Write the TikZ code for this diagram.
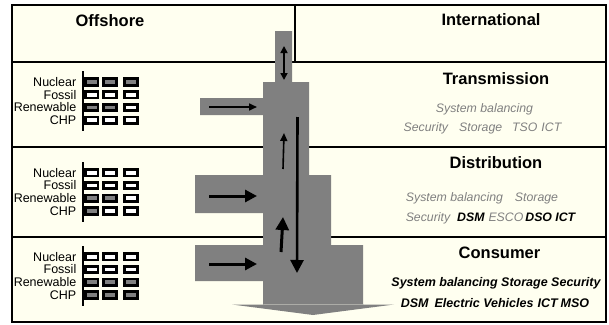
\documentclass[tikz,border=0pt]{standalone}
\usepackage{fontspec}
\setmainfont{Liberation Sans}
\usepackage{xcolor}
\usepackage{tikz}
\usetikzlibrary{arrows.meta}
\usetikzlibrary{positioning}

\definecolor{paper}{RGB}{255,255,240}
\definecolor{flowgray}{RGB}{128,128,128}
\definecolor{softtext}{RGB}{128,128,128}
\colorlet{lit}{flowgray}
\colorlet{unlit}{white}

\newcommand{\bolditem}[1]{{\bfseries\color{black}#1}}

% name, y of first row, fills per row
\newcommand{\gentable}[3]{%
  \foreach \lab [count=\r] in {Nuclear,Fossil,Renewable,CHP}
    \node[gen] (#1-\r) at (76.5,{#2+(\r-1)*12.8}) {\lab};
  \foreach \fa/\fb/\fc [count=\r] in {#3} {
    \node[cell,fill=\fa] (#1-\r-a) at (91.8,{#2+(\r-1)*12.8}) {};
    \node[cell,fill=\fb] (#1-\r-b) at (109.9,{#2+(\r-1)*12.8}) {};
    \node[cell,fill=\fc] (#1-\r-c) at (131,{#2+(\r-1)*12.8}) {};
  }
  \draw[rule,line width=2.4pt] (82.7,{#2-10.5}) -- (82.7,{#2+48.9});
}

\begin{document}
\begin{tikzpicture}[x=1pt,y=-1pt,
  head/.style={font=\bfseries\fontsize{16.5}{18}\selectfont},
  gen/.style={anchor=east,inner sep=0pt,font=\fontsize{12.5}{13}\selectfont},
  cell/.style={draw,line width=2.8pt,minimum width=12.4pt,minimum height=6.6pt,inner sep=0pt},
  item/.style={inner sep=0pt,text=softtext,font=\itshape\fontsize{12.3}{14}\selectfont},
  hot/.style={inner sep=0pt,text=black,font=\bfseries\itshape\fontsize{12.5}{14}\selectfont},
  rule/.style={line width=2pt},
  thin arrow/.style={line width=1.6pt,-{Triangle[length=8pt,width=7pt]}},
  feed arrow/.style={line width=3pt,-{Triangle[length=12pt,width=12pt]}},
  main arrow/.style={line width=2.6pt,-{Triangle[length=13pt,width=13pt]}}]

\useasboundingbox (0,0) rectangle (609,324);
\fill[white] (0,0) rectangle (609,324);

% frame and rows
\draw[rule,fill=paper] (12,5) rectangle (606,322);
\draw[rule] (12,62) -- (606,62);
\draw[rule] (12,147) -- (606,147);
\draw[rule] (12,237) -- (606,237);
\draw[rule] (295,5) -- (295,62);

% headings
\node[head] (offshore) at (110,21) {Offshore};
\node[head] (intl) at (491,20) {International};
\node[head] (trans) at (496,79) {Transmission};
\node[head] (distr) at (496,163) {Distribution};
\node[head] (cons) at (499.5,253) {Consumer};

% generation mix
\gentable{tg}{81.8}{lit/lit/lit, unlit/unlit/unlit, lit/lit/unlit, unlit/unlit/unlit}
\gentable{dg}{172.7}{unlit/unlit/unlit, unlit/unlit/unlit, lit/lit/unlit, lit/unlit/unlit}
\gentable{cg}{256.7}{unlit/unlit/unlit, unlit/unlit/unlit, lit/lit/lit, lit/lit/lit}

% power flow
\fill[flowgray] (275,31) rectangle (292,82)
  (263,82) rectangle (309,175)
  (200,98) rectangle (263,115)
  (263,175) rectangle (331,246)
  (195,175) rectangle (263,213)
  (195,245) rectangle (263,281)
  (263,245) rectangle (363,305)
  (232,304.5) -- (394,304.5) -- (313,315) -- cycle;

\coordinate (link-top) at (284,46);
\coordinate (link-bot) at (284,80);
\coordinate (tfeed-s) at (209,107);
\coordinate (tfeed-e) at (257,107);
\coordinate (dfeed-s) at (209,196);
\coordinate (dfeed-e) at (257,196);
\coordinate (cfeed-s) at (209,264);
\coordinate (cfeed-e) at (257,264);
\coordinate (down-s) at (297.5,117);
\coordinate (down-e) at (297,273);
\coordinate (up1-s) at (283,169);
\coordinate (up1-e) at (284,133);
\coordinate (up2-s) at (281,252);
\coordinate (up2-e) at (283,217);

\draw[line width=1.6pt,{Triangle[length=7pt,width=7pt]}-{Triangle[length=7pt,width=7pt]}] (link-top) -- (link-bot);
\draw[thin arrow] (tfeed-s) -- (tfeed-e);
\draw[thin arrow] (up1-s) -- (up1-e);
\draw[feed arrow] (dfeed-s) -- (dfeed-e);
\draw[feed arrow] (cfeed-s) -- (cfeed-e);
\draw[feed arrow,-{Triangle[length=13pt,width=13pt]}] (up2-s) -- (up2-e);
\draw[main arrow] (down-s) -- (down-e);

% roles per level
\node[item] (t-a) at (484.5,109) {System balancing};
\node[item] (t-b) at (482.5,128.3) {Security\hspace{11pt}Storage\hspace{10pt}TSO\hspace{4pt}ICT};
\node[item] (d-a) at (482,198.7) {System balancing\hspace{12pt}Storage};
\node[item] (d-b) at (490.5,218.3) {Security\hspace{7pt}\bolditem{DSM}\hspace{4pt}ESCO\hspace{2pt}\bolditem{DSO ICT}};
\node[hot] (c-a) at (496,283.7) {System balancing Storage Security};
\node[hot] (c-b) at (495,303.3) {DSM\hspace{6pt}Electric Vehicles\hspace{4pt}ICT\hspace{3pt}MSO};
\end{tikzpicture}
\end{document}
